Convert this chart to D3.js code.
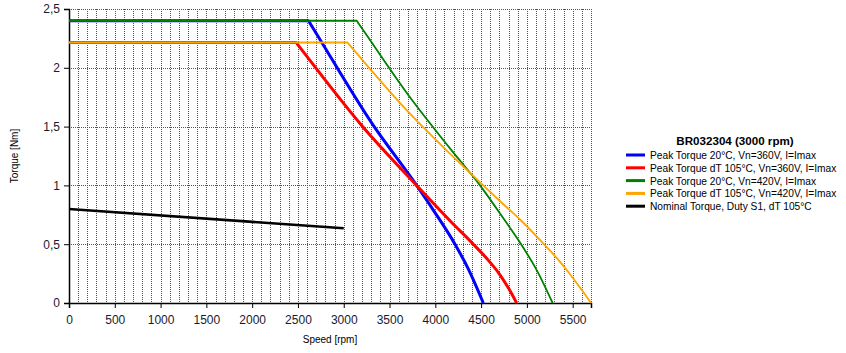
<!DOCTYPE html>
<html>
<head>
<meta charset="utf-8">
<script src="https://cdn.jsdelivr.net/npm/d3@7"></script>
<style>
  body { margin: 0; background: #fff; }
  svg text { font-family: "Liberation Sans", Arial, sans-serif; }
</style>
</head>
<body>
<div id="chart"></div>
<script>
// curve data: [speed rpm, torque Nm]
const peak20_360 = [[0, 2.4], [2615, 2.4], [2635, 2.375], [3323, 1.51], [3796, 1.0], [3978, 0.79], [4215, 0.5], [4360, 0.29], [4524, 0]];
const peak105_360 = [[0, 2.215], [2480, 2.215], [2500, 2.195], [3196, 1.51], [3796, 1.0], [4160, 0.70], [4415, 0.5], [4560, 0.38], [4706, 0.24], [4800, 0.125], [4888, 0]];
const peak20_420 = [[0, 2.4], [3140, 2.4], [3160, 2.378], [3723, 1.75], [4160, 1.315], [4488, 1.0], [4743, 0.72], [4961, 0.47], [5107, 0.28], [5281, 0]];
const peak105_420 = [[0, 2.215], [3040, 2.215], [3060, 2.197], [3723, 1.61], [4160, 1.27], [4379, 1.106], [4743, 0.84], [4925, 0.71], [5198, 0.49], [5362, 0.35], [5471, 0.245], [5600, 0.11], [5700, 0]];
const nominal = [[0, 0.80], [3000, 0.635]];

const seriesNames = [
  "Peak Torque 20°C, Vn=360V, I=Imax",
  "Peak Torque dT 105°C, Vn=360V, I=Imax",
  "Peak Torque 20°C, Vn=420V, I=Imax",
  "Peak Torque dT 105°C, Vn=420V, I=Imax",
  "Nominal Torque, Duty S1, dT 105°C"
];
const seriesData = [peak20_360, peak105_360, peak20_420, peak105_420, nominal];
const seriesColors = ["#0000ff", "#ff0000", "#008000", "#ffa500", "#000000"];
const seriesWidths = [3, 3, 1.8, 1.8, 2.5];

const xTicks = [0, 500, 1000, 1500, 2000, 2500, 3000, 3500, 4000, 4500, 5000, 5500];
const yTicks = [0, 0.5, 1, 1.5, 2, 2.5];
const legendTitle = "BR032304 (3000 rpm)";

const width = 846, height = 353;
const margin = { top: 9, right: 255, bottom: 50, left: 69 };

const svg = d3.select("#chart").append("svg")
  .attr("width", width)
  .attr("height", height);

const x = d3.scaleLinear()
  .domain([0, 5700])
  .range([margin.left, width - margin.right]);

const y = d3.scaleLinear()
  .domain([0, 2.5])
  .range([height - margin.bottom, margin.top]);

const fmt = d => String(d).replace(".", ",");

// grid
const grid = svg.append("g").attr("stroke", "#555").attr("stroke-width", 1).attr("stroke-dasharray", "1,1");
grid.selectAll(".vg").data(d3.range(100, 5701, 100)).join("line")
  .attr("x1", d => Math.round(x(d)) + 0.5).attr("x2", d => Math.round(x(d)) + 0.5)
  .attr("y1", y(2.5)).attr("y2", y(0));
grid.selectAll(".hg").data(yTicks.filter(d => d > 0)).join("line")
  .attr("x1", x(0)).attr("x2", x(5700))
  .attr("y1", d => Math.round(y(d)) + 0.5).attr("y2", d => Math.round(y(d)) + 0.5);

// axes
const xAxis = svg.append("g")
  .attr("transform", `translate(0,${y(0)})`)
  .call(d3.axisBottom(x).tickValues(xTicks).tickSize(5).tickFormat(d3.format("d")));
const yAxis = svg.append("g")
  .attr("transform", `translate(${x(0)},0)`)
  .call(d3.axisLeft(y).tickValues(yTicks).tickSize(5).tickFormat(fmt));

[xAxis, yAxis].forEach(a => {
  a.select(".domain").attr("stroke", "#000").attr("stroke-width", 1.5);
  a.selectAll("text").attr("font-size", 12).attr("fill", "#1a1a2e")
    .attr("font-family", "'Liberation Sans', Arial, sans-serif");
});
xAxis.selectAll("text").attr("dy", "1.1em");
yAxis.selectAll("text").attr("dx", "-1px");

// curves
const line = d3.line().x(d => x(d[0])).y(d => y(d[1])).curve(d3.curveMonotoneX);
seriesData.forEach((s, i) => {
  svg.append("path")
    .datum(s)
    .attr("fill", "none")
    .attr("stroke", seriesColors[i])
    .attr("stroke-width", seriesWidths[i])
    .attr("stroke-linejoin", "round")
    .attr("d", line);
});

// axis titles
svg.append("text")
  .attr("x", (x(0) + x(5700)) / 2)
  .attr("y", 343)
  .attr("text-anchor", "middle")
  .attr("font-size", 10)
  .text("Speed [rpm]");

svg.append("text")
  .attr("transform", `translate(18,${(y(0) + y(2.5)) / 2}) rotate(-90)`)
  .attr("text-anchor", "middle")
  .attr("font-size", 10)
  .text("Torque [Nm]");

// legend
const legend = svg.append("g").attr("transform", "translate(626,0)");
legend.append("text")
  .attr("x", 109).attr("y", 145)
  .attr("text-anchor", "middle")
  .attr("font-size", 11.6)
  .attr("font-weight", "bold")
  .text(legendTitle);

seriesNames.forEach((name, i) => {
  const yy = 155 + i * 12.8;
  legend.append("line")
    .attr("x1", 0).attr("x2", 19)
    .attr("y1", yy).attr("y2", yy)
    .attr("stroke", seriesColors[i])
    .attr("stroke-width", 3);
  legend.append("text")
    .attr("x", 24).attr("y", yy + 4)
    .attr("font-size", 10.2)
    .text(name);
});
</script>
</body>
</html>
